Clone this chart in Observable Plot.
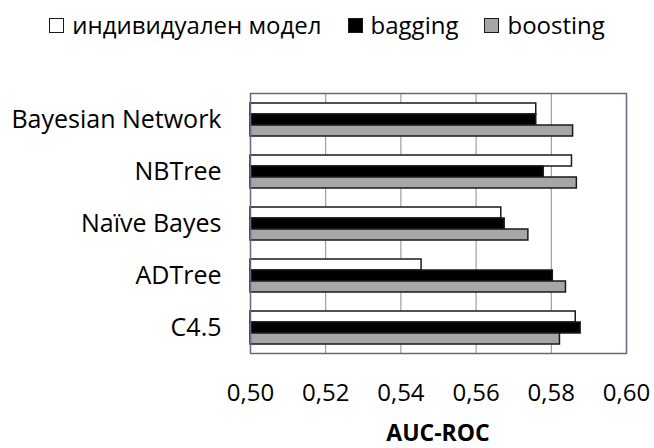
<!DOCTYPE html>
<html>
<head>
<meta charset="utf-8">
<script src="https://cdn.jsdelivr.net/npm/d3@7"></script>
<script src="https://cdn.jsdelivr.net/npm/@observablehq/plot@0.6"></script>
<style>
  html, body { margin: 0; padding: 0; background: #fff; }
  body { width: 654px; height: 448px; overflow: hidden; font-family: "Open Sans", sans-serif; color: #000; }
  #legend { display: flex; justify-content: center; align-items: center; height: 50px; font-size: 24px; line-height: 50px; gap: 26px; white-space: nowrap; }
  #legend .item { display: flex; align-items: center; gap: 8px; }
  #legend .sw { flex: 0 0 auto; width: 13px; height: 13px; border: 1.5px solid #1a1a1a; box-sizing: content-box; }
  #chart svg { display: block; }
  #caption { height: 24px; line-height: 24px; padding-left: 250px; padding-right: 28px; text-align: center; font-size: 23px; font-weight: bold; }
  svg [aria-label="fy-axis tick label"] { font-size: 25px; }
</style>
</head>
<body>
<div id="legend"></div>
<div id="chart"></div>
<div id="caption">AUC-ROC</div>
<script>
// Classifiers (one group of bars each), top to bottom
const categories = ["Bayesian Network", "NBTree", "Naïve Bayes", "ADTree", "C4.5"];
// Ensemble variants within each group
const series = ["индивидуален модел", "bagging", "boosting"];
// AUC-ROC per classifier
const individualValues = [0.576, 0.5855, 0.5667, 0.5455, 0.5865];
const baggingValues = [0.576, 0.578, 0.5676, 0.5804, 0.5878];
const boostingValues = [0.5858, 0.5868, 0.5739, 0.5839, 0.5823];
// Axis
const xDomain = [0.50, 0.60];
const xTicks = [0.50, 0.52, 0.54, 0.56, 0.58, 0.60];
const gridTicks = [0.52, 0.54, 0.56, 0.58];
const seriesFill = ["#ffffff", "#000000", "#a6a6a6"];

const valuesBySeries = [individualValues, baggingValues, boostingValues];
const rows = [];
categories.forEach((c, i) => {
  series.forEach((s, j) => rows.push({category: c, series: s, value: valuesBySeries[j][i]}));
});

const commaFormat = d3.formatLocale({decimal: ",", thousands: " ", grouping: [3], currency: ["", ""]}).format(".2f");

// Legend
const legend = document.getElementById("legend");
series.forEach((s, j) => {
  const item = document.createElement("div");
  item.className = "item";
  const sw = document.createElement("span");
  sw.className = "sw";
  sw.style.background = seriesFill[j];
  const label = document.createElement("span");
  label.textContent = s;
  item.append(sw, label);
  legend.append(item);
});

const chart = Plot.plot({
  width: 654,
  height: 370,
  marginTop: 42,
  marginBottom: 67,
  marginLeft: 250,
  marginRight: 28,
  style: {fontFamily: "Open Sans, sans-serif", fontSize: "24px", color: "#000", background: "#fff"},
  x: {domain: xDomain, ticks: xTicks, tickFormat: commaFormat, tickSize: 0, tickPadding: 30, label: null},
  y: {domain: series, axis: null, paddingInner: 0, paddingOuter: 0.74},
  fy: {domain: categories, padding: 0, label: null, tickSize: 0, tickPadding: 29},
  color: {domain: series, range: seriesFill},
  marks: [
    Plot.ruleX(gridTicks, {stroke: "#8c8c8c", strokeWidth: 1}),
    Plot.barX(rows, {
      fy: "category",
      y: "series",
      x1: xDomain[0],
      x2: "value",
      fill: "series",
      stroke: "#1a1a1a",
      strokeWidth: 1.5
    }),
    Plot.frame({facet: "super", stroke: "#6c6480", strokeWidth: 1.5})
  ]
});
document.getElementById("chart").append(chart);
</script>
</body>
</html>
